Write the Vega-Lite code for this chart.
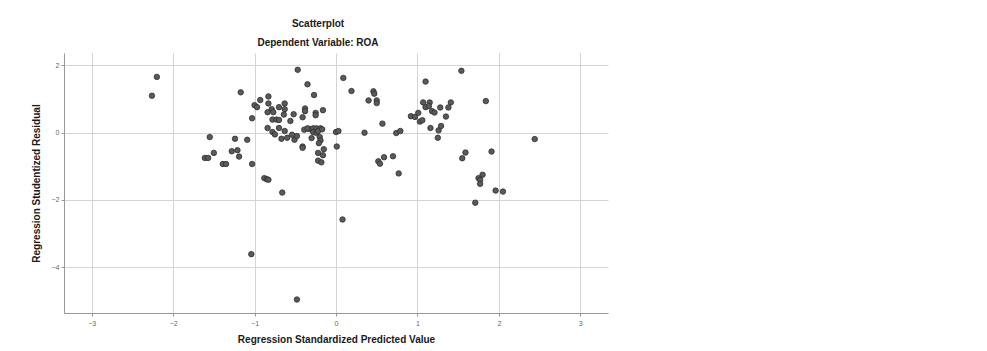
{
  "$schema": "https://vega.github.io/schema/vega-lite/v6.json",
  "width": 544,
  "height": 260,
  "autosize": {"type": "none"},
  "padding": {"left": 64, "top": 53, "right": 379, "bottom": 38},
  "background": "white",
  "title": {
    "text": "Scatterplot",
    "subtitle": "Dependent Variable: ROA",
    "anchor": "middle",
    "dx": -18,
    "offset": 5,
    "font": "Liberation Sans",
    "fontSize": 10,
    "fontWeight": "bold",
    "color": "#1a1a1a",
    "subtitleFont": "Liberation Sans",
    "subtitleFontSize": 10,
    "subtitleFontWeight": "bold",
    "subtitleColor": "#1a1a1a",
    "subtitlePadding": 9
  },
  "config": {
    "view": {"stroke": null},
    "axis": {
      "gridColor": "#d4d4d4",
      "gridWidth": 1,
      "domainColor": "#999999",
      "tickColor": "#999999",
      "tickSize": 3,
      "labelFont": "Liberation Sans",
      "labelFontSize": 7,
      "labelColor": "#666666",
      "titleFont": "Liberation Sans",
      "titleFontSize": 10,
      "titleFontWeight": "bold",
      "titleColor": "#1a1a1a"
    }
  },
  "data": {
    "values": [
      {"x": -2.20, "y": 1.66}, {"x": -2.26, "y": 1.10}, {"x": -1.17, "y": 1.20},
      {"x": -0.47, "y": 1.87}, {"x": -0.35, "y": 1.44}, {"x": -0.27, "y": 1.12},
      {"x": -1.55, "y": -0.13}, {"x": -1.50, "y": -0.60}, {"x": -1.61, "y": -0.75},
      {"x": -1.57, "y": -0.75}, {"x": -1.39, "y": -0.93}, {"x": -1.35, "y": -0.93},
      {"x": -1.24, "y": -0.18}, {"x": -1.09, "y": -0.21}, {"x": -1.03, "y": -0.93},
      {"x": -1.28, "y": -0.55}, {"x": -1.21, "y": -0.52}, {"x": -1.19, "y": -0.71},
      {"x": -0.88, "y": -1.35}, {"x": -0.85, "y": -1.38}, {"x": -0.83, "y": -1.40},
      {"x": -0.66, "y": -1.78},
      {"x": -1.03, "y": 0.43}, {"x": -1.00, "y": 0.82}, {"x": -0.97, "y": 0.76},
      {"x": -0.93, "y": 0.97}, {"x": -0.83, "y": 1.08}, {"x": -0.83, "y": 0.87},
      {"x": -0.79, "y": 0.70}, {"x": -0.84, "y": 0.61}, {"x": -0.77, "y": 0.61},
      {"x": -0.70, "y": 0.76}, {"x": -0.63, "y": 0.87}, {"x": -0.63, "y": 0.70},
      {"x": -0.78, "y": 0.39}, {"x": -0.73, "y": 0.39}, {"x": -0.70, "y": 0.38},
      {"x": -0.64, "y": 0.54}, {"x": -0.56, "y": 0.35}, {"x": -0.52, "y": 0.55},
      {"x": -0.41, "y": 0.46}, {"x": -0.38, "y": 0.72}, {"x": -0.38, "y": 0.64},
      {"x": -0.25, "y": 0.59}, {"x": -0.25, "y": 0.52}, {"x": -0.16, "y": 0.67},
      {"x": -0.84, "y": 0.14}, {"x": -0.78, "y": 0.02}, {"x": -0.75, "y": -0.05},
      {"x": -0.70, "y": 0.14}, {"x": -0.63, "y": 0.05}, {"x": -0.67, "y": -0.18},
      {"x": -0.60, "y": -0.15}, {"x": -0.54, "y": -0.06}, {"x": -0.51, "y": -0.21},
      {"x": -0.48, "y": -0.10}, {"x": -0.41, "y": -0.41}, {"x": -0.41, "y": -0.45},
      {"x": -0.39, "y": 0.09}, {"x": -0.33, "y": 0.11}, {"x": -0.28, "y": 0.13},
      {"x": -0.24, "y": 0.13}, {"x": -0.19, "y": 0.13}, {"x": -0.28, "y": 0.02},
      {"x": -0.24, "y": -0.01}, {"x": -0.30, "y": -0.16}, {"x": -0.20, "y": -0.13},
      {"x": -0.19, "y": -0.23}, {"x": -0.21, "y": -0.31}, {"x": -0.22, "y": -0.60},
      {"x": -0.15, "y": -0.49}, {"x": -0.16, "y": -0.67}, {"x": -0.22, "y": -0.83},
      {"x": -0.18, "y": -0.88}, {"x": -0.35, "y": 0.13}, {"x": -0.22, "y": 0.05},
      {"x": -0.17, "y": 0.10},
      {"x": 0.00, "y": 0.02}, {"x": 0.03, "y": 0.05}, {"x": 0.01, "y": -0.41},
      {"x": 0.09, "y": 1.63}, {"x": 0.19, "y": 1.24}, {"x": 0.35, "y": 0.00},
      {"x": 0.46, "y": 1.23}, {"x": 0.47, "y": 1.16}, {"x": 0.40, "y": 0.96},
      {"x": 0.50, "y": 0.96}, {"x": 0.50, "y": 0.88}, {"x": 0.57, "y": 0.27},
      {"x": 0.74, "y": -0.01}, {"x": 0.79, "y": 0.05}, {"x": 0.70, "y": -0.70},
      {"x": 0.59, "y": -0.73}, {"x": 0.52, "y": -0.85}, {"x": 0.54, "y": -0.92},
      {"x": 0.77, "y": -1.21}, {"x": 1.10, "y": 1.52}, {"x": 0.92, "y": 0.49},
      {"x": 0.97, "y": 0.47}, {"x": 1.01, "y": 0.59}, {"x": 1.03, "y": 0.33},
      {"x": 1.06, "y": 0.37}, {"x": 1.07, "y": 0.90}, {"x": 1.15, "y": 0.90},
      {"x": 1.10, "y": 0.76}, {"x": 1.14, "y": 0.79}, {"x": 1.18, "y": 0.64},
      {"x": 1.21, "y": 0.60}, {"x": 1.16, "y": 0.14}, {"x": 1.25, "y": -0.15},
      {"x": 1.26, "y": 0.07}, {"x": 1.29, "y": 0.20}, {"x": 1.28, "y": 0.75},
      {"x": 1.35, "y": 0.48}, {"x": 1.38, "y": 0.75}, {"x": 1.41, "y": 0.90},
      {"x": 1.54, "y": 1.84}, {"x": 1.84, "y": 0.94}, {"x": 2.44, "y": -0.19},
      {"x": 1.91, "y": -0.56}, {"x": 1.59, "y": -0.59}, {"x": 1.55, "y": -0.76},
      {"x": 1.80, "y": -1.25}, {"x": 1.75, "y": -1.35}, {"x": 1.77, "y": -1.40},
      {"x": 1.77, "y": -1.52}, {"x": 1.96, "y": -1.72}, {"x": 2.05, "y": -1.75},
      {"x": 1.71, "y": -2.08}, {"x": 0.08, "y": -2.58}, {"x": -1.04, "y": -3.61},
      {"x": -0.48, "y": -4.96}
    ]
  },
  "mark": {"type": "point", "shape": "circle", "filled": true, "size": 30, "fill": "#5a5a5a", "stroke": "#2e2e2e", "strokeWidth": 0.8, "opacity": 1},
  "encoding": {
    "x": {
      "field": "x", "type": "quantitative",
      "scale": {"domain": [-3.34, 3.34], "nice": false, "zero": false},
      "axis": {"title": "Regression Standardized Predicted Value", "values": [-3, -2, -1, 0, 1, 2, 3], "labelPadding": 3, "titlePadding": 8}
    },
    "y": {
      "field": "y", "type": "quantitative",
      "scale": {"domain": [-5.36, 2.37], "nice": false, "zero": false},
      "axis": {"title": "Regression Studentized Residual", "values": [-4, -2, 0, 2], "labelPadding": 2, "titlePadding": 10}
    }
  }
}
